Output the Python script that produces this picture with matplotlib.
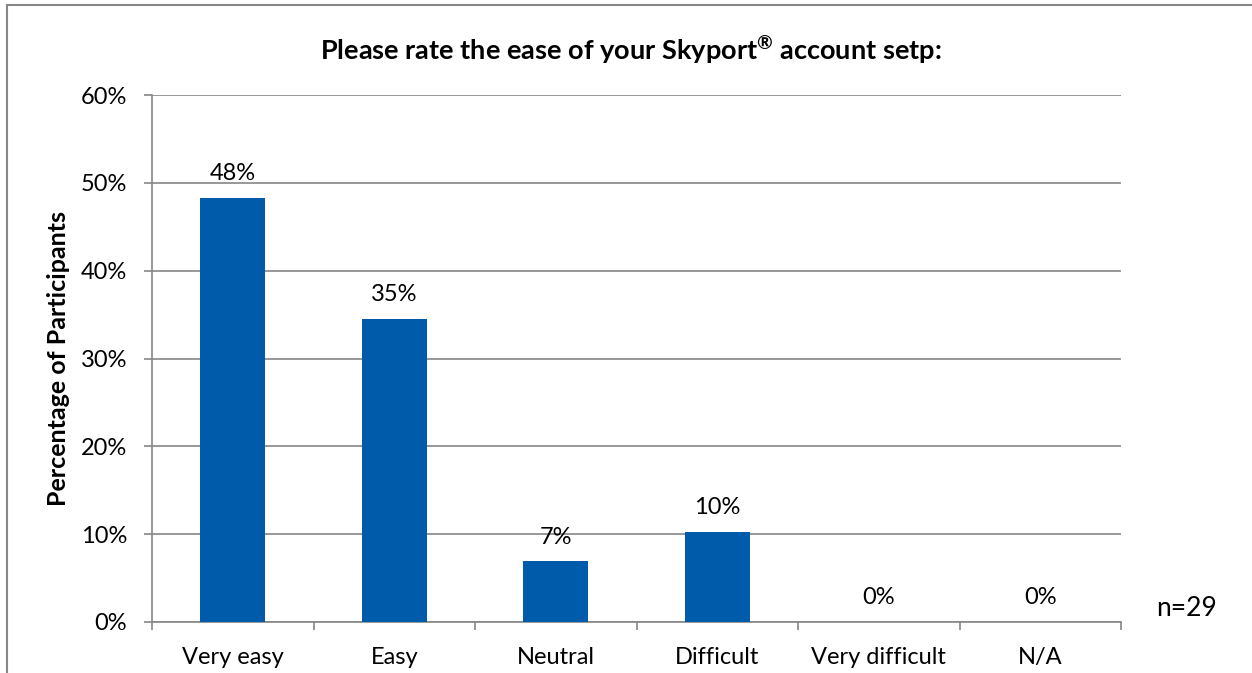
import matplotlib
matplotlib.use("Agg")
import matplotlib.pyplot as plt
from matplotlib.patches import Rectangle

categories = ["Very easy", "Easy", "Neutral", "Difficult", "Very difficult", "N/A"]
values = [48.3, 34.5, 6.9, 10.3, 0.0, 0.0]
labels = ["48%", "35%", "7%", "10%", "0%", "0%"]
yticks = [0, 10, 20, 30, 40, 50, 60]
ytick_labels = ["0%", "10%", "20%", "30%", "40%", "50%", "60%"]
title = "Please rate the ease of your Skyport$^{\\mathbf{\u00ae}}$ account setp:"
ylabel = "Percentage of Participants"
note = "n=29"

plt.rcParams['font.family'] = ['Lato', 'DejaVu Sans']
plt.rcParams['mathtext.fontset'] = 'custom'
plt.rcParams['mathtext.rm'] = 'Lato'
plt.rcParams['mathtext.bf'] = 'Lato:bold'
plt.rcParams['mathtext.it'] = 'Lato:italic'

W, H = 1252, 673
fig = plt.figure(figsize=(W/100, H/100), dpi=100)
fig.patch.set_facecolor("white")

# outer frame (cropped at right/bottom)
fig.add_artist(Rectangle((7/W, -0.05), 1.2, (H-5)/H + 0.05, transform=fig.transFigure,
                         fill=False, edgecolor="#868686", linewidth=1.5))

ax = fig.add_axes([152/W, 1-622/H, (1121-152)/W, (622-95)/H])
grey = "#868686"
fs = 17
x = list(range(len(categories)))
ax.bar(x, values, width=0.4, color="#005BAA", zorder=3)
ax.set_xlim(-0.5, len(categories)-0.5)
ax.set_ylim(0, 60)
ax.set_yticks(yticks)
ax.set_yticklabels(ytick_labels, fontsize=fs)
ax.set_xticks(x)
ax.set_xticklabels(categories, fontsize=fs)
ax.tick_params(axis='x', length=0, pad=18)
ax.tick_params(axis='y', length=6, color=grey, width=1.2, pad=12)
# category boundary ticks
ax.set_xticks([i - 0.5 for i in range(len(categories)+1)], minor=True)
ax.tick_params(axis='x', which='minor', length=6, color=grey, width=1.2)
ax.yaxis.grid(True, color=grey, linewidth=1.2, zorder=0)
for s in ["top", "right"]:
    ax.spines[s].set_visible(False)
for s in ["left", "bottom"]:
    ax.spines[s].set_color(grey)
    ax.spines[s].set_linewidth(1.2)

for xi, v, lab in zip(x, values, labels):
    ax.annotate(lab, (xi, v), xytext=(0, 10), textcoords="offset points",
                ha="center", va="bottom", fontsize=fs)

fig.text(631/W, 1-50/H, title, ha="center", va="center", fontsize=19.5, fontweight="bold")
fig.text(59/W, 1-358/H, ylabel, ha="center", va="center", rotation=90, fontsize=18, fontweight="bold")
fig.text(1186/W, 1-608/H, note, ha="center", va="center", fontsize=19)

fig.savefig("out.png", dpi=100, facecolor="white")
